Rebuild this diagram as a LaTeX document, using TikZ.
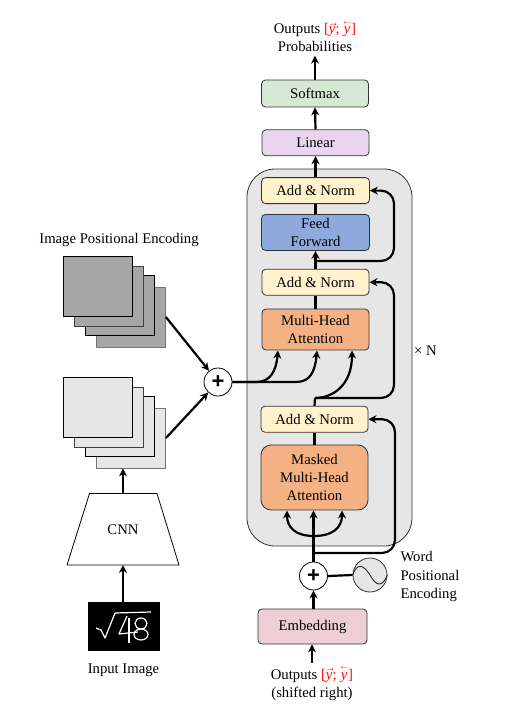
\documentclass[tikz,border=0pt]{standalone}
\usepackage{amsmath}
\usepackage{fontspec}
\setmainfont{Liberation Serif}
\newfontfamily\plusfont{Liberation Sans}
\usetikzlibrary{arrows.meta, positioning}
\definecolor{softgreen}{RGB}{213, 232, 212}
\definecolor{linearpurple}{RGB}{233, 213, 238}
\definecolor{normyellow}{RGB}{255, 242, 204}
\definecolor{feedblue}{RGB}{142, 169, 219}
\definecolor{attnorange}{RGB}{244, 177, 131}
\definecolor{embedpink}{RGB}{238, 206, 214}
\definecolor{panelgray}{RGB}{230, 230, 230}
\definecolor{pegray}{RGB}{166, 166, 166}
\newcommand{\outvec}{\textcolor{red}{[$\vec{\mbox{\itshape y}}$; $\overset{\scriptscriptstyle\leftarrow}{\mbox{\itshape y}}$]}}
\tikzset{
    every node/.style={font=\fontsize{14.7}{18.3}\selectfont, align=center},
    layerbox/.style={draw=black!80, rectangle, rounded corners=4pt, minimum width=107pt, minimum height=26pt, inner sep=0pt, line width=0.8pt},
    normbox/.style={layerbox, fill=normyellow},
    attnbox/.style={layerbox, fill=attnorange, minimum height=41pt},
    stackbox/.style={draw=black, rectangle, minimum width=69pt, minimum height=60pt, inner sep=0pt, line width=0.8pt},
    plusnode/.style={draw=black, circle, fill=white, minimum size=28pt, inner sep=0pt, line width=0.8pt, font=\plusfont\fontsize{22}{22}\selectfont\bfseries},
    flowarrow/.style={-{Stealth[length=8pt,width=8pt]}, line width=2.2pt},
    flowline/.style={line width=2.2pt},
}
\begin{document}
\begin{tikzpicture}[x=1pt, y=-1pt]
    \useasboundingbox (0,0) rectangle (511,717);
    % decoder panel
    \node[draw=black!80, fill=panelgray, rectangle, rounded corners=28pt, minimum width=165pt, minimum height=377pt, line width=0.8pt] (panel) at (329.5,357.5) {};
    \node (times) at (425.5,351) {× N};
    % decoder stack
    \node[layerbox, fill=embedpink, minimum width=109pt, minimum height=35pt] (embed) at (312.5,626.5) {Embedding};
    \node[plusnode] (plusword) at (313.5,576) {+};
    \node[draw=black!80, circle, fill=panelgray, minimum size=34pt, inner sep=0pt, line width=0.8pt] (wave) at (370,575) {};
    \node[anchor=west, align=left] (wordpe) at (397,576.5) {Word\\Positional\\Encoding};
    \node (outin) at (312,683) {Outputs \outvec\\(shifted right)};
    \node[attnbox, rounded corners=10pt, minimum height=65pt] (masked) at (314.5,477.5) {Masked\\Multi-Head\\Attention};
    \node[normbox, above=12pt of masked] (norma) {Add \& Norm};
    \node[attnbox] (mha) at (315.5,329.5) {Multi-Head\\Attention};
    \node[normbox, above=13pt of mha] (normb) {Add \& Norm};
    \node[layerbox, fill=feedblue, minimum height=36pt, minimum width=108pt, above=18pt of normb] (feed) {Feed\\Forward};
    \node[normbox, minimum width=108pt, above=10pt of feed] (normc) {Add \& Norm};
    \node[layerbox, fill=linearpurple, above=21pt of normc] (linear) {Linear};
    \node[layerbox, fill=softgreen, xshift=-0.5pt, minimum height=27pt, above=22pt of linear] (softmax) {Softmax};
    \node (outtop) at (315,36) {Outputs \outvec\\Probabilities};
    % encoder side
    \node (pelabel) at (119,240) {Image Positional Encoding};
    \node[stackbox, fill=pegray, draw=black!55] (pe4) at (131,317) {};
    \node[stackbox, fill=pegray] (pe3) at (120,305) {};
    \node[stackbox, fill=pegray, draw=black!75] (pe2) at (109,296) {};
    \node[stackbox, fill=pegray] (pe1) at (98,286) {};
    \node[stackbox, fill=panelgray, draw=black!55] (fm4) at (131,438) {};
    \node[stackbox, fill=panelgray] (fm3) at (120,426) {};
    \node[stackbox, fill=panelgray, draw=black!75] (fm2) at (109,417) {};
    \node[stackbox, fill=panelgray] (fm1) at (98,407) {};
    \node[plusnode] (plusimg) at (218,382) {+};
    \node (cnn) at (123,530) {CNN};
    \coordinate (cnntop) at (123,493.5);
    \coordinate (cnnbot) at (123,565);
    \draw[line width=0.8pt] (89.5,493.5) -- (157,493.5) -- (179,565) -- (67,565) -- cycle;
    \node[fill=black, rectangle, minimum width=72pt, minimum height=49pt, inner sep=0pt] (img) at (124,626.5) {};
    \node (imglabel) at (123.5,670) {Input Image};
    % handwritten input
    \draw[white, line width=1.2pt, line join=round] (96,628) -- (101,630) -- (105,638) -- (115,613) -- (151,612);
    \draw[white, line width=1.2pt, line join=round] (127,616) -- (119,634) -- (138,632);
    \draw[white, line width=1.2pt] (129,618) -- (129,643);
    \draw[white, line width=1.2pt] (141,623.5) ellipse (6 and 5.5);
    \draw[white, line width=1.2pt] (141,634.5) ellipse (7 and 5.5);
    \draw[line width=0.9pt, black!85] (wave.west) .. controls (357,563) and (363,564) .. (wave.center) .. controls (376,586) and (382,588) .. (wave.east);
    % junction points
    \coordinate (splitff) at (315,261);
    \coordinate (splitmid) at (315,398);
    \coordinate (splitin) at (314,553);
    \coordinate (splitarc) at (314,536);
    \coordinate (bendff) at (394,261);
    \coordinate (bendmid) at (394,398);
    \coordinate (bendin) at (395,553);
    \coordinate (mergea) at (256,382);
    \coordinate (mergeb) at (296,382);
    \coordinate (mhaleft) at (278,350.5);
    \coordinate (mhacen) at (317,350.5);
    \coordinate (mharight) at (352,350.5);
    \coordinate (maskleft) at (287,510.5);
    \coordinate (maskright) at (342,510.5);
    \coordinate (inputfoot) at (312,662.5);
    % encoder arrows
    \draw[flowarrow] (img.north -| cnnbot) -- (cnnbot);
    \draw[flowarrow] (cnntop) -- (cnntop |- fm4.south);
    \draw[flowarrow] (pe4.east) -- (plusimg);
    \draw[flowarrow] (fm4.east) -- (plusimg);
    \draw[flowarrow] (plusimg.east) -- (mergea) .. controls (270,382) and (276,372) .. (mhaleft);
    \draw[flowarrow] (plusimg.east) -- (mergeb) .. controls (310,382) and (315,372) .. (mhacen);
    % decoder arrows
    \draw[flowarrow] (inputfoot) -- (inputfoot |- embed.south);
    \draw[flowarrow] (embed.north -| plusword.south) -- (plusword.south);
    \draw[flowline] (plusword.east) -- (wave.west);
    \draw[flowarrow] (plusword.north) -- (plusword.north |- masked.south);
    \draw[flowarrow] (splitarc) .. controls (296,536) and (287,528) .. (maskleft);
    \draw[flowarrow] (splitarc) .. controls (332,536) and (342,528) .. (maskright);
    \draw[flowarrow, rounded corners=13pt] (splitin) -- (bendin) -- (bendin |- norma.east) -- (norma.east);
    \draw[flowline] (masked.north) -- (norma.south);
    \draw[flowline] (norma.north) -- (splitmid);
    \draw[flowarrow] (splitmid) .. controls (332,398) and (352,386) .. (mharight);
    \draw[flowarrow, rounded corners=13pt] (splitmid) -- (bendmid) -- (bendmid |- normb.east) -- (normb.east);
    \draw[flowline] (mha.north) -- (normb.south);
    \draw[flowarrow] (normb.north) -- (feed.south);
    \draw[flowarrow, rounded corners=13pt] (splitff) -- (bendff) -- (bendff |- normc.east) -- (normc.east);
    \draw[flowline] (feed.north) -- (normc.south);
    \draw[flowarrow] (normc.north) -- (linear.south);
    \draw[flowarrow] (linear.north) -- (softmax.south);
    \draw[flowarrow] (softmax.north) -- (outtop.south);
\end{tikzpicture}
\end{document}
